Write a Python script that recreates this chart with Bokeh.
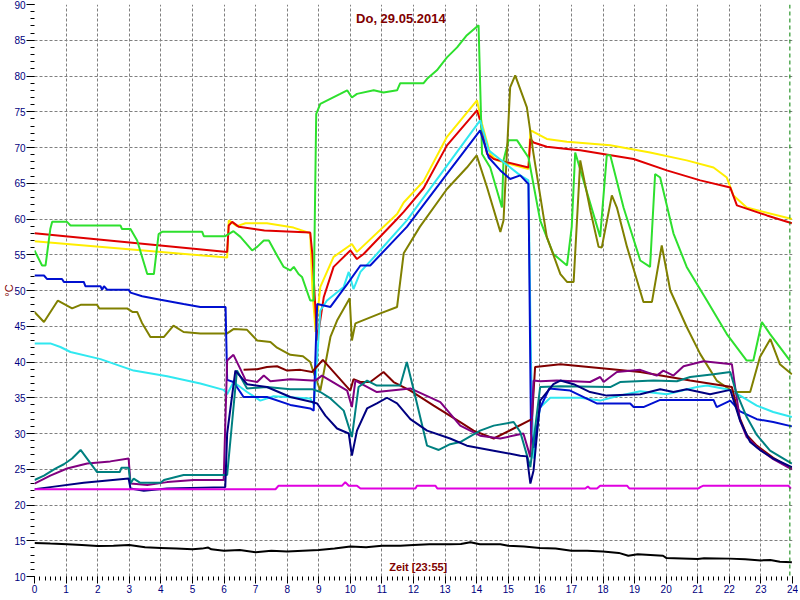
import math
from bokeh.plotting import figure
from bokeh.models import FixedTicker, Label, Span, Range1d
from bokeh.embed import file_html
from bokeh.resources import INLINE

# ---------------- data ----------------
title_text = "Do, 29.05.2014"
xlabel_text = "Zeit [23:55]"
ylabel_text = "°C"
now_hour = 23 + 55 / 60

hour_ticks = list(range(0, 25))
hour_minor = [i / 6 for i in range(0, 145)]
temp_ticks = list(range(10, 91, 5))
temp_minor = list(range(10, 91))

green = [(0.0, 55.6), (0.24, 53.5), (0.35, 53.5), (0.5, 58.6), (0.56, 59.6), (1.03, 59.6), (1.14, 59.1),
         (2.72, 59.1), (2.77, 58.6), (3.04, 58.6), (3.25, 57.0), (3.57, 52.3), (3.78, 52.3), (3.93, 57.9),
         (4.04, 58.2), (5.31, 58.2), (5.36, 57.6), (6.04, 57.6), (6.3, 58.3), (6.52, 57.5), (6.89, 55.6),
         (7.05, 56.1), (7.26, 57.0), (7.42, 57.0), (7.68, 54.9), (7.89, 53.3), (8.1, 52.8), (8.21, 53.3),
         (8.36, 52.3), (8.47, 51.9), (8.73, 48.6), (8.84, 48.6), (8.92, 74.7), (9.05, 76.1), (9.68, 77.5),
         (9.9, 78.0), (10.05, 77.0), (10.21, 77.5), (10.74, 78.0), (11.05, 77.7), (11.48, 78.0), (11.58, 79.0),
         (12.32, 79.0), (12.43, 79.6), (12.74, 80.8), (13.06, 82.6), (13.38, 84.0), (13.69, 85.7), (14.06, 87.1),
         (14.17, 69.1), (14.43, 67.2), (14.8, 61.6), (14.85, 68.2), (15.01, 71.0), (15.28, 71.0), (15.64, 68.6),
         (16.01, 59.8), (16.43, 55.1), (16.86, 53.5), (17.01, 58.9), (17.12, 69.3), (17.91, 57.5), (18.12, 68.9),
         (18.23, 68.9), (18.65, 61.6), (19.18, 54.2), (19.49, 53.3), (19.65, 66.3), (19.81, 65.8), (20.23, 58.0),
         (20.65, 53.3), (21.29, 48.6), (21.92, 43.9), (22.55, 40.2), (22.76, 40.2), (23.03, 45.6), (23.29, 43.9),
         (23.92, 40.2)]

red = [(0.0, 58.0), (6.1, 55.4), (6.15, 59.1), (6.26, 59.6), (6.47, 58.9), (7.28, 58.4), (8.73, 58.1),
       (8.8, 55.0), (8.95, 43.0), (9.16, 49.1), (9.47, 53.3), (10.0, 55.6), (10.21, 54.4), (10.42, 55.1),
       (11.48, 60.0), (11.69, 61.0), (12.32, 64.3), (13.06, 70.3), (14.01, 75.2), (14.11, 73.8), (14.33, 69.1),
       (14.54, 68.4), (15.64, 67.2), (15.7, 71.2), (15.8, 70.7), (16.22, 70.1), (16.86, 69.8), (17.28, 69.6),
       (18.97, 68.4), (20.02, 66.8), (21.08, 65.4), (22.03, 64.4), (22.24, 61.9), (23.19, 60.5), (23.98, 59.4)]

yellow = [(0.0, 56.9), (6.1, 54.6), (6.15, 59.8), (6.41, 59.0), (6.68, 59.4), (7.36, 59.4), (8.2, 58.8),
          (8.73, 58.0), (8.8, 50.0), (8.9, 44.2), (9.05, 50.5), (9.47, 54.7), (10.05, 56.5), (10.21, 55.4),
          (11.48, 60.7), (11.69, 62.3), (12.32, 65.3), (13.06, 71.5), (14.01, 76.6), (14.17, 73.3),
          (14.43, 69.1), (14.64, 68.2), (15.64, 67.0), (15.7, 72.4), (15.8, 72.2), (16.22, 71.2), (16.86, 70.8),
          (18.23, 70.3), (19.49, 69.3), (20.65, 68.2), (21.5, 67.2), (21.92, 65.8), (22.13, 63.3),
          (22.55, 61.6), (23.98, 60.0)]

blue = [(0.0, 52.1), (0.3, 52.1), (0.4, 51.6), (0.87, 51.6), (0.93, 51.2), (1.56, 51.2), (1.61, 50.6),
        (2.09, 50.6), (2.14, 50.1), (2.2, 50.6), (2.3, 50.1), (2.98, 50.1), (3.04, 49.7), (3.41, 49.2),
        (3.99, 48.7), (4.72, 48.1), (5.25, 47.7), (6.05, 47.7), (6.1, 37.5), (6.3, 37.2), (6.62, 35.1),
        (7.36, 35.1), (8.1, 34.0), (8.73, 33.5), (8.84, 33.2), (8.95, 48.1), (9.37, 47.7), (9.9, 50.9),
        (10.32, 53.5), (10.63, 53.5), (11.79, 58.9), (13.06, 66.3), (14.11, 72.4), (14.38, 68.6),
        (14.75, 66.8), (15.06, 65.6), (15.38, 66.1), (15.64, 64.9), (15.72, 30.0), (15.8, 28.0),
        (16.0, 33.5), (16.3, 36.3), (16.96, 36.0), (17.8, 34.2), (18.86, 34.2), (18.97, 33.7), (19.28, 33.7),
        (19.81, 34.7), (21.5, 34.7), (21.6, 33.7), (22.03, 34.6), (22.34, 33.1), (22.87, 32.0),
        (23.39, 31.6), (23.98, 31.0)]

cyan = [(0.0, 42.6), (0.5, 42.6), (0.82, 42.1), (1.14, 41.4), (2.09, 40.4), (3.14, 38.8), (4.2, 38.0),
        (5.25, 37.0), (5.99, 36.1), (6.1, 35.5), (6.3, 37.2), (6.73, 35.8), (7.15, 34.6), (7.57, 35.2),
        (8.73, 34.9), (8.85, 34.0), (9.05, 47.2), (9.26, 48.6), (9.79, 50.5), (9.95, 52.6), (10.1, 50.2),
        (10.32, 52.6), (10.84, 55.1), (11.79, 59.8), (14.11, 73.8), (14.38, 69.6), (15.38, 66.1),
        (15.64, 65.4), (15.72, 40.0), (15.8, 26.5), (16.0, 33.6), (16.33, 35.0), (17.28, 35.0),
        (17.91, 34.6), (18.44, 35.2), (19.18, 35.9), (20.02, 35.5), (20.97, 36.5), (21.29, 36.7),
        (21.92, 36.2), (22.34, 35.3), (22.87, 33.9), (23.39, 33.0), (23.98, 32.3)]

olive = [(0.0, 47.0), (0.3, 45.6), (0.74, 48.6), (1.19, 47.5), (1.46, 48.0), (1.98, 48.0), (2.05, 47.5),
         (2.93, 47.5), (3.1, 47.0), (3.25, 47.0), (3.4, 45.5), (3.67, 43.5), (4.1, 43.5), (4.4, 45.1),
         (4.72, 44.2), (5.25, 44.0), (6.1, 44.0), (6.3, 44.6), (6.73, 44.5), (7.05, 43.0), (7.47, 42.8),
         (7.68, 42.0), (8.1, 41.0), (8.5, 40.8), (8.73, 40.0), (8.84, 38.5), (9.05, 36.0), (9.37, 43.5),
         (9.58, 45.8), (9.98, 48.9), (10.05, 43.0), (10.16, 45.4), (10.95, 46.8), (11.48, 47.7),
         (11.69, 55.2), (12.2, 58.9), (13.06, 64.2), (13.69, 67.2), (14.0, 68.9), (14.33, 64.4),
         (14.75, 58.2), (14.85, 59.8), (15.06, 78.4), (15.22, 80.1), (15.59, 75.6), (15.8, 69.1),
         (16.22, 57.5), (16.65, 52.3), (16.86, 51.2), (17.07, 51.2), (17.28, 68.2), (17.6, 61.2),
         (17.86, 56.1), (17.96, 56.0), (18.28, 63.3), (18.44, 61.6), (18.76, 56.1), (19.28, 48.4),
         (19.55, 48.4), (19.86, 56.3), (20.13, 50.0), (20.65, 44.9), (21.08, 41.1), (21.6, 37.4),
         (22.13, 35.8), (22.66, 35.8), (22.97, 40.7), (23.3, 43.2), (23.6, 39.7), (23.98, 38.3)]

maroon = [(6.62, 38.9), (7.05, 39.0), (7.36, 39.3), (7.68, 39.4), (8.0, 38.8), (8.42, 38.9), (8.79, 38.6),
          (9.13, 40.3), (10.0, 36.0), (10.1, 37.6), (10.32, 37.2), (10.63, 37.2), (11.05, 38.6),
          (11.37, 37.2), (11.9, 36.0), (12.64, 33.9), (13.48, 31.6), (13.9, 30.4), (14.54, 29.3),
          (15.17, 30.7), (15.75, 32.0), (15.85, 39.3), (16.65, 39.7), (19.18, 38.6), (20.76, 37.4),
          (22.08, 36.5), (22.3, 32.5), (22.55, 29.8), (22.87, 28.3), (23.39, 26.6), (23.98, 25.1)]

purple = [(0.0, 23.0), (0.5, 24.1), (1.03, 25.1), (1.67, 25.8), (2.4, 26.1), (2.98, 26.5), (3.04, 23.0),
          (3.57, 22.8), (4.2, 23.2), (5.04, 23.5), (5.99, 23.5), (6.1, 40.2), (6.3, 41.0), (6.52, 39.0),
          (6.68, 37.5), (7.05, 37.2), (7.26, 38.1), (7.47, 37.3), (8.1, 37.6), (8.79, 37.4), (8.89, 37.4),
          (9.1, 38.1), (9.9, 36.0), (10.05, 33.7), (10.16, 37.4), (10.84, 35.8), (11.9, 36.3), (12.85, 34.4),
          (13.48, 31.1), (14.11, 29.7), (14.75, 29.3), (15.48, 30.0), (15.7, 26.7), (15.8, 37.4),
          (16.01, 37.3), (16.54, 37.4), (17.59, 37.2), (17.91, 37.9), (18.02, 37.2), (18.44, 38.6),
          (19.18, 38.9), (19.7, 38.1), (19.91, 38.8), (20.23, 38.1), (20.55, 39.4), (21.18, 40.1),
          (22.08, 39.7), (22.2, 36.0), (22.34, 31.8), (22.55, 29.5), (22.87, 28.1), (23.39, 26.4),
          (23.98, 25.0)]

teal = [(0.0, 23.5), (0.3, 24.1), (0.66, 25.1), (0.93, 25.7), (1.19, 26.5), (1.46, 27.7), (1.98, 24.6),
        (2.7, 24.6), (2.75, 25.2), (2.98, 25.2), (3.04, 23.0), (3.14, 23.7), (3.35, 23.1), (3.99, 23.1),
        (4.1, 23.5), (4.72, 24.2), (6.1, 24.2), (6.41, 38.8), (6.73, 36.3), (7.36, 36.5), (8.1, 36.2),
        (8.79, 36.2), (9.05, 35.8), (9.37, 34.9), (9.79, 33.2), (10.05, 29.5), (10.26, 36.5), (10.53, 37.4),
        (10.84, 36.7), (11.58, 36.7), (11.79, 40.0), (12.06, 35.1), (12.43, 28.3), (12.8, 27.7),
        (13.16, 28.5), (13.48, 28.8), (14.11, 30.4), (14.54, 31.1), (15.17, 31.6), (15.38, 30.2),
        (15.7, 25.3), (16.01, 36.5), (16.65, 36.6), (18.23, 36.5), (18.54, 37.2), (19.6, 37.4),
        (20.34, 37.3), (20.76, 37.9), (21.5, 38.3), (22.03, 38.6), (22.2, 36.0), (22.55, 32.3),
        (22.87, 29.8), (23.29, 27.6), (23.98, 25.8)]

navy = [(0.0, 22.2), (0.5, 22.5), (1.56, 23.1), (2.98, 23.7), (3.04, 22.3), (3.46, 22.0), (4.2, 22.3),
        (6.04, 22.5), (6.1, 30.0), (6.36, 38.8), (6.73, 36.9), (7.36, 36.5), (8.1, 35.1), (8.79, 34.4),
        (8.95, 34.2), (9.21, 32.5), (9.58, 30.7), (9.95, 30.0), (10.05, 26.9), (10.21, 30.4), (10.53, 33.5),
        (10.84, 34.2), (11.16, 35.0), (11.48, 34.2), (11.9, 32.0), (12.43, 30.4), (13.16, 29.3),
        (13.69, 28.3), (14.54, 27.6), (15.38, 26.9), (15.59, 26.8), (15.7, 23.0), (15.8, 24.8),
        (16.01, 34.6), (16.43, 36.9), (16.65, 37.4), (17.07, 36.9), (17.59, 35.8), (18.12, 35.3),
        (19.18, 35.5), (19.81, 36.2), (20.23, 35.8), (20.65, 36.2), (21.39, 35.5), (22.03, 36.1),
        (22.34, 31.8), (22.66, 28.8), (23.0, 27.6), (23.39, 26.5), (23.98, 25.3)]

magenta = [(0.0, 22.2), (7.63, 22.2), (7.73, 22.7), (9.74, 22.7), (9.84, 23.2), (9.95, 22.7), (10.21, 22.7),
           (10.32, 22.3), (12.06, 22.3), (12.11, 22.7), (12.69, 22.7), (12.76, 22.3), (17.44, 22.3),
           (17.52, 22.6), (17.59, 22.3), (17.81, 22.3), (17.91, 22.7), (18.76, 22.7), (18.84, 22.3),
           (21.02, 22.3), (21.08, 22.5), (21.18, 22.7), (23.87, 22.7), (23.95, 22.3)]

black = [(0.0, 14.7), (0.5, 14.6), (1.04, 14.5), (1.5, 14.4), (2.0, 14.25), (2.5, 14.3), (3.0, 14.4),
         (3.5, 14.1), (4.0, 14.0), (4.5, 13.9), (5.0, 13.8), (5.3, 13.9), (5.5, 14.05), (5.6, 13.8),
         (6.0, 13.6), (6.5, 13.7), (7.0, 13.4), (7.5, 13.6), (8.0, 13.5), (8.5, 13.6), (9.0, 13.7),
         (9.5, 13.9), (10.0, 14.2), (10.5, 14.1), (11.0, 14.3), (11.58, 14.3), (12.0, 14.4), (12.5, 14.5),
         (13.16, 14.5), (13.5, 14.55), (13.8, 14.8), (14.1, 14.5), (14.75, 14.5), (15.0, 14.3), (15.5, 14.2),
         (16.0, 14.0), (16.5, 13.9), (17.0, 13.6), (17.5, 13.6), (18.0, 13.5), (18.5, 13.3), (18.8, 12.9),
         (19.1, 13.1), (19.9, 12.9), (20.0, 12.6), (21.0, 12.45), (21.2, 12.55), (22.0, 12.5), (22.5, 12.4),
         (23.0, 12.25), (23.3, 12.3), (23.6, 12.05), (23.98, 12.0)]

series = [
    (yellow, "#ffee00"),
    (red, "#e00000"),
    (green, "#2ee02e"),
    (olive, "#808000"),
    (cyan, "#30e8f0"),
    (blue, "#0010d0"),
    (maroon, "#800000"),
    (purple, "#800080"),
    (teal, "#008080"),
    (navy, "#000080"),
    (magenta, "#e000e0"),
    (black, "#000000"),
]

# ---------------- figure ----------------
p = figure(width=798, height=596, output_backend="svg", toolbar_location=None,
           x_range=Range1d(0, 24), y_range=Range1d(10, 90),
           min_border_left=34, min_border_right=6, min_border_top=4, min_border_bottom=20)
p.outline_line_color = None
p.background_fill_color = "white"
p.border_fill_color = "white"

font = "Liberation Sans"
for ax in (p.xaxis[0], p.yaxis[0]):
    ax.axis_line_color = None
    ax.major_tick_line_color = "black"
    ax.minor_tick_line_color = "black"
    ax.major_tick_in = 0
    ax.minor_tick_in = 0
    ax.major_label_text_color = "#000080"
    ax.major_label_text_font = font
    ax.major_label_text_font_size = "10px"

p.xaxis.ticker = FixedTicker(ticks=hour_ticks, minor_ticks=hour_minor)
p.xaxis.major_tick_out = 7
p.xaxis.minor_tick_out = 4
p.xaxis.major_label_standoff = 1

p.yaxis.ticker = FixedTicker(ticks=temp_ticks, minor_ticks=temp_minor)
p.yaxis.major_tick_out = 8
p.yaxis.minor_tick_out = 4
p.yaxis.major_label_standoff = 1
p.yaxis.axis_label = ylabel_text
p.yaxis.axis_label_standoff = -4
p.yaxis.axis_label_text_color = "#800000"
p.yaxis.axis_label_text_font = font
p.yaxis.axis_label_text_font_size = "11px"
p.yaxis.axis_label_text_font_style = "normal"

p.xgrid.ticker = FixedTicker(ticks=hour_ticks[1:-1])
p.ygrid.ticker = FixedTicker(ticks=temp_ticks[1:-1])
for g in (p.xgrid[0], p.ygrid[0]):
    g.grid_line_color = "#808080"
    g.grid_line_dash = "3 2"
    g.grid_line_width = 1

for data, color in series:
    xs = [d[0] for d in data]
    ys = [d[1] for d in data]
    p.line(xs, ys, line_color=color, line_width=2)

p.add_layout(Span(location=now_hour, dimension="height", line_color="#008000",
                  line_dash="4 3", line_width=1))

p.add_layout(Label(x=11.6, y=88.0, text=title_text, text_color="#800000", text_font=font,
                   text_font_size="13px", text_font_style="bold", text_align="center",
                   text_baseline="middle"))
p.add_layout(Label(x=12.15, y=11.3, text=xlabel_text, text_color="#800000", text_font=font,
                   text_font_size="11px", text_font_style="bold", text_align="center",
                   text_baseline="middle"))

open("out.html", "w").write(file_html(p, INLINE))
